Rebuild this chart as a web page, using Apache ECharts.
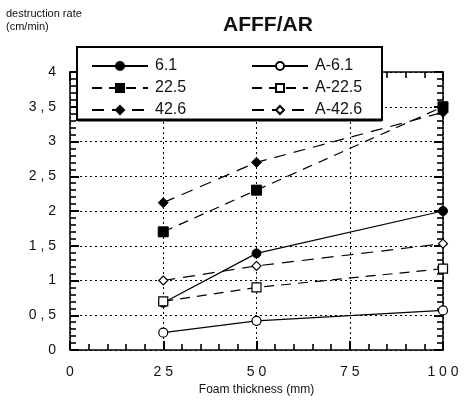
<!DOCTYPE html>
<html><head><meta charset="utf-8">
<script src="https://cdn.jsdelivr.net/npm/echarts@6/dist/echarts.min.js"></script>
<style>html,body{margin:0;padding:0;background:#fff}#c{width:466px;height:401px}</style>
</head><body><div id="c"></div>
<script>
var xCats = [25, 50, 100];
var s61 = [0.68, 1.39, 2.0];
var s225 = [1.70, 2.30, 3.50];
var s426 = [2.12, 2.70, 3.42];
var sA61 = [0.25, 0.42, 0.57];
var sA225 = [0.70, 0.90, 1.17];
var sA426 = [1.00, 1.21, 1.53];
var xTickLabels = {0:'0', 25:'2 5', 50:'5 0', 75:'7 5', 100:'1 0 0'};
var yTickLabels = {0:'0', 0.5:'0 , 5', 1:'1', 1.5:'1 , 5', 2:'2', 2.5:'2 , 5', 3:'3', 3.5:'3 , 5', 4:'4'};

function pts(arr){ return xCats.map(function(x,i){ return [x, arr[i]]; }); }
function ser(name, arr, symbol, filled, dash, size){
  return {
    name: name, type: 'line', data: pts(arr), symbol: symbol, symbolSize: size,
    lineStyle: {color:'#000', width:1.2, type: dash},
    itemStyle: filled ? {color:'#000', borderColor:'#000', borderWidth:1} : {color:'#fff', borderColor:'#000', borderWidth:1.2},
    z: 5
  };
}
function axisLine(){ return {show:true, onZero:false, lineStyle:{color:'#000', width:1.5}}; }
function axisTick(){ return {show:true, inside:true, length:9, lineStyle:{color:'#000', width:2}}; }
function minorTick(){ return {show:true, splitNumber:5, length:6, lineStyle:{color:'#000', width:1.6}}; }
var chart = echarts.init(document.getElementById('c'));
chart.setOption({
  animation: false,
  title: {text:'AFFF/AR', left: 218, top: 10, textStyle:{fontFamily:'Liberation Sans', fontWeight:'bold', fontSize:21, color:'#111'}},
  grid: {left:70, right:23, top:72, bottom:51},
  graphic: [
    {type:'text', left:6, top:7, style:{text:'destruction rate\n(cm/min)', fontFamily:'Liberation Sans', fontSize:11, lineHeight:13, fill:'#111'}},
    {type:'rect', shape:{x:77, y:47, width:305, height:73}, style:{fill:'#fff', stroke:'#000', lineWidth:2}, z:50},
    {type:'line', shape:{x1:78, y1:120, x2:382, y2:120}, style:{stroke:'#000', lineWidth:3}, z:51}
  ],
  legend: [
    {data:['6.1','22.5','42.6'], orient:'vertical', left:86, top:53, itemGap:6, itemWidth:56, itemHeight:10, z:60,
     textStyle:{fontFamily:'Liberation Sans', fontSize:16, color:'#111', padding:[0,0,0,2]}},
    {data:['A-6.1','A-22.5','A-42.6'], orient:'vertical', left:246, top:53, itemGap:6, itemWidth:56, itemHeight:10, z:60,
     textStyle:{fontFamily:'Liberation Sans', fontSize:16, color:'#111', padding:[0,0,0,2]}}
  ],
  xAxis: [
    {type:'value', min:0, max:100, interval:25, position:'bottom',
      axisLine:axisLine(), axisTick:axisTick(), minorTick:minorTick(),
      name:'Foam thickness (mm)', nameLocation:'middle', nameGap:27,
      nameTextStyle:{fontFamily:'Liberation Sans', fontSize:12, color:'#111'},
      axisLabel:{margin:15, fontFamily:'Liberation Sans', fontSize:14, color:'#111', formatter:function(v){return xTickLabels[v]!==undefined?xTickLabels[v]:'';}},
      splitLine:{show:true, lineStyle:{color:'#000', type:[2,3], width:1}}
    },
    {type:'value', min:0, max:100, interval:25, position:'top',
      axisLine:axisLine(), axisTick:axisTick(), minorTick:minorTick(),
      axisLabel:{show:false}, splitLine:{show:false}}
  ],
  yAxis: [
    {type:'value', min:0, max:4, interval:0.5, position:'left',
      axisLine:axisLine(), axisTick:axisTick(), minorTick:minorTick(),
      axisLabel:{margin:14, fontFamily:'Liberation Sans', fontSize:14, color:'#111', formatter:function(v){return yTickLabels[v]!==undefined?yTickLabels[v]:'';}},
      splitLine:{show:true, lineStyle:{color:'#000', type:[2,3], width:1}}
    },
    {type:'value', min:0, max:4, interval:0.5, position:'right',
      axisLine:axisLine(), axisTick:axisTick(), minorTick:minorTick(),
      axisLabel:{show:false}, splitLine:{show:false}}
  ],
  series: [
    ser('6.1', s61, 'circle', true, 'solid', 9),
    ser('22.5', s225, 'rect', true, [10,7], 10),
    ser('42.6', s426, 'diamond', true, [12,8], 10),
    ser('A-6.1', sA61, 'circle', false, 'solid', 9),
    ser('A-22.5', sA225, 'rect', false, [10,7], 9),
    ser('A-42.6', sA426, 'diamond', false, [12,8], 9)
  ]
});
</script></body></html>
